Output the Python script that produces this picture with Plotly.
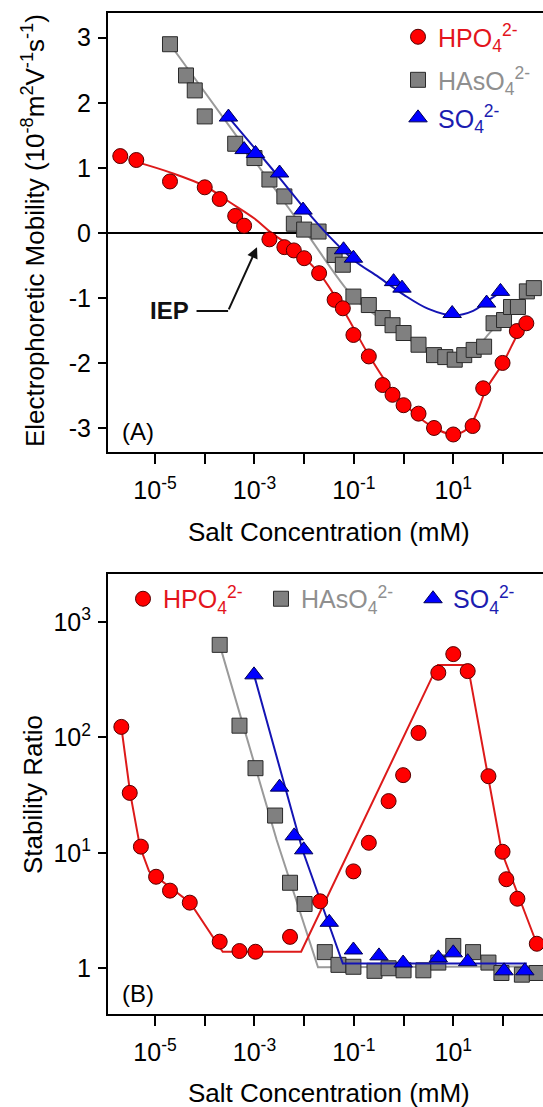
import plotly.graph_objects as go

# ---------------- Panel A: electrophoretic mobility ----------------
mob_conc_hpo4 = [2.0e-6, 4.2e-6, 2.0e-5, 1.0e-4, 2.0e-4, 4.1e-4, 6.2e-4, 2.0e-3, 4.0e-3, 6.2e-3,
                 1.0e-2, 2.0e-2, 4.1e-2, 6.0e-2, 9.8e-2, 0.20, 0.38, 0.60, 1.0, 2.0,
                 4.1, 10, 24.5, 40, 98, 190, 295]
mob_hpo4 = [1.18, 1.12, 0.79, 0.70, 0.52, 0.26, 0.11, -0.10, -0.22, -0.27,
            -0.39, -0.62, -1.03, -1.16, -1.57, -1.90, -2.34, -2.49, -2.65, -2.78,
            -3.00, -3.10, -2.97, -2.39, -2.00, -1.51, -1.39]

mob_conc_haso4 = [2.0e-5, 4.2e-5, 6.3e-5, 1.0e-4, 4.1e-4, 1.0e-3, 2.0e-3, 4.0e-3, 6.2e-3, 1.0e-2,
                  1.95e-2, 4.1e-2, 6.0e-2, 9.8e-2, 0.20, 0.38, 0.60, 1.0, 2.0, 4.1,
                  6.9, 10.7, 16.6, 25.7, 41.7, 64.6, 105, 145, 200, 302, 417]
mob_haso4 = [2.90, 2.42, 2.19, 1.79, 1.37, 1.15, 0.82, 0.56, 0.14, 0.05,
             0.02, -0.34, -0.49, -0.98, -1.11, -1.31, -1.42, -1.54, -1.72, -1.88,
             -1.91, -1.95, -1.88, -1.80, -1.75, -1.39, -1.34, -1.14, -1.14, -0.90, -0.85]

mob_conc_so4 = [3.0e-4, 6.2e-4, 1.05e-3, 3.2e-3, 9.5e-3, 6.2e-2, 9.8e-2, 0.63, 0.93, 9.5, 46.8, 89]
mob_so4 = [1.78, 1.28, 1.22, 0.92, 0.35, -0.26, -0.39, -0.75, -0.85, -1.24, -1.08, -0.90]

fit_mob_conc_hpo4 = [4.7e-6, 2.0e-5, 1.0e-4, 3.2e-4, 1.0e-3, 2.2e-3, 6.3e-3, 2.0e-2, 6.3e-2, 0.2,
                     0.63, 2.0, 5.0, 10, 20, 31.6, 44.7, 100, 200, 282]
fit_mob_hpo4 = [1.08, 0.93, 0.72, 0.47, 0.22, 0.0, -0.25, -0.62, -1.2, -1.88,
                -2.45, -2.83, -3.03, -3.1, -3.0, -2.72, -2.42, -2.0, -1.55, -1.38]

fit_mob_conc_haso4 = [2.0e-5, 1e-3, 1e-2, 0.1, 0.316, 1, 3.16, 10, 25.1, 55, 200, 398]
fit_mob_haso4 = [2.9, 1.11, 0.05, -1.0, -1.3, -1.58, -1.82, -1.93, -1.82, -1.53, -1.08, -0.85]

fit_mob_conc_so4 = [3.0e-4, 3.16e-3, 1e-2, 3.16e-2, 0.1, 0.316, 1, 3.16, 10, 25.1, 55, 95.5]
fit_mob_so4 = [1.78, 0.85, 0.38, -0.05, -0.42, -0.68, -0.95, -1.17, -1.27, -1.2, -1.02, -0.9]

# ---------------- Panel B: stability ratio ----------------
st_conc_hpo4 = [2.1e-6, 3.1e-6, 5.2e-6, 1.05e-5, 2.0e-5, 5.0e-5, 2.0e-4, 5.0e-4, 1.05e-3, 5.2e-3,
                2.1e-2, 9.8e-2, 0.2, 0.5, 0.98, 2.0, 5.0, 10, 19.5, 51,
                98, 117, 195, 479]
st_hpo4 = [123, 33, 11.3, 6.2, 4.7, 3.7, 1.7, 1.41, 1.39, 1.87,
           3.8, 6.9, 12.2, 28, 47, 109, 362, 525, 374, 46,
           10.2, 5.9, 4.0, 1.63]

st_conc_haso4 = [2.0e-4, 5.0e-4, 1.05e-3, 2.6e-3, 5.2e-3, 1.02e-2, 2.6e-2, 4.9e-2, 9.8e-2, 0.26,
                 0.5, 1.0, 2.5, 5.0, 10, 25, 51, 93, 240, 479]
st_haso4 = [631, 126, 54, 21, 5.5, 3.6, 1.38, 1.07, 1.03, 0.95,
            1.0, 0.96, 0.96, 1.12, 1.56, 1.38, 1.12, 0.91, 0.88, 0.91]

st_conc_so4 = [9.8e-4, 3.2e-3, 6.3e-3, 9.8e-3, 3.2e-2, 9.8e-2, 0.32, 0.98, 5.0, 10, 19.5, 105, 275]
st_so4 = [347, 37, 14, 10.6, 2.5, 1.44, 1.28, 1.11, 1.23, 1.36, 1.14, 0.95, 0.95]

fit_st_conc_hpo4 = [2.1e-6, 3.16e-6, 5.0e-6, 7.6e-6, 5.1e-5, 2.3e-4, 8.7e-3, 4.9, 19.5, 95.5, 479]
fit_st_hpo4 = [123, 33, 11.2, 6.9, 3.7, 1.39, 1.39, 423, 423, 10.0, 1.63]

fit_st_conc_haso4 = [2.0e-4, 2.8e-3, 1.9e-2, 479]
fit_st_haso4 = [631, 12.9, 1.02, 1.04]

fit_st_conc_so4 = [9.8e-4, 9.3e-3, 6.0e-2, 302]
fit_st_so4 = [347, 10.5, 1.1, 1.1]

x_tickvals = [1e-5, 1e-3, 1e-1, 10]
x_ticktext = ["10<sup>-5</sup>", "10<sup>-3</sup>", "10<sup>-1</sup>", "10<sup>1</sup>"]
x_minorvals = [1e-4, 1e-2, 1, 100]
yA_tickvals = [-3, -2, -1, 0, 1, 2, 3]
yA_ticktext = ["-3", "-2", "-1", "0", "1", "2", "3"]
yB_tickvals = [1, 10, 100, 1000]
yB_ticktext = ["1", "10<sup>1</sup>", "10<sup>2</sup>", "10<sup>3</sup>"]

RED_T, GRAY_T, BLUE_T = "#e3141c", "#8f8f8f", "#1c1cb0"
RED_L, GRAY_L, BLUE_L = "#dd1a1a", "#9a9a9a", "#1414b4"
FONT = "Liberation Sans, Arial, sans-serif"

names = {
    "hpo4": f'<span style="color:{RED_T}">HPO<sub>4</sub><sup>2-</sup></span>',
    "haso4": f'<span style="color:{GRAY_T}">HAsO<sub>4</sub><sup>2-</sup></span>',
    "so4": f'<span style="color:{BLUE_T}">SO<sub>4</sub><sup>2-</sup></span>',
}
mk = {
    "hpo4": dict(symbol="circle", size=15, color="#ff0000", line=dict(color="#550000", width=1)),
    "haso4": dict(symbol="square", size=15, color="#808080", line=dict(color="#2a2a2a", width=1)),
    "so4": dict(symbol="triangle-up", size=16, color="#0000ff", line=dict(color="#000055", width=1)),
}
# one legend box per entry (panel A stacked, panel B in a row)
legend_of = {("A", "hpo4"): "legend", ("A", "haso4"): "legend2", ("A", "so4"): "legend3",
             ("B", "hpo4"): "legend4", ("B", "haso4"): "legend5", ("B", "so4"): "legend6"}

fig = go.Figure()

def add_series(xs, ys, fx, fy, key, lc, xa, ya, panel, shape):
    fig.add_trace(go.Scatter(x=fx, y=fy, mode="lines", line=dict(color=lc, width=2, shape=shape),
                             xaxis=xa, yaxis=ya, showlegend=False, hoverinfo="skip"))
    fig.add_trace(go.Scatter(x=xs, y=ys, mode="markers", marker=mk[key], name=names[key],
                             xaxis=xa, yaxis=ya, legend=legend_of[(panel, key)]))

# panel A
add_series(mob_conc_haso4, mob_haso4, fit_mob_conc_haso4, fit_mob_haso4, "haso4", GRAY_L, "x", "y", "A", "spline")
add_series(mob_conc_so4, mob_so4, fit_mob_conc_so4, fit_mob_so4, "so4", BLUE_L, "x", "y", "A", "spline")
add_series(mob_conc_hpo4, mob_hpo4, fit_mob_conc_hpo4, fit_mob_hpo4, "hpo4", RED_L, "x", "y", "A", "spline")
# panel B
add_series(st_conc_haso4, st_haso4, fit_st_conc_haso4, fit_st_haso4, "haso4", GRAY_L, "x2", "y2", "B", "linear")
add_series(st_conc_so4, st_so4, fit_st_conc_so4, fit_st_so4, "so4", BLUE_L, "x2", "y2", "B", "linear")
add_series(st_conc_hpo4, st_hpo4, fit_st_conc_hpo4, fit_st_hpo4, "hpo4", RED_L, "x2", "y2", "B", "linear")

axis_common = dict(showline=True, linecolor="black", linewidth=2, ticks="outside", tickcolor="black",
                   tickwidth=2, showgrid=False, tickfont=dict(size=25, color="black", family=FONT))

xcommon = dict(axis_common, type="log", range=[-5.946, 2.805], tickmode="array", tickvals=x_tickvals,
               ticktext=x_ticktext, ticklen=10, mirror=True, zeroline=False, ticklabelstandoff=5,
               minor=dict(tickmode="array", tickvals=x_minorvals, ticks="outside", ticklen=10,
                          tickwidth=2, tickcolor="black", showgrid=False))

def leg(x, y):
    return dict(x=x, y=y, xanchor="left", yanchor="middle", font=dict(size=25, family=FONT),
                bgcolor="rgba(0,0,0,0)", borderwidth=0)

fig.update_layout(
    width=543, height=1107,
    margin=dict(l=108, r=0, t=13, b=93),
    paper_bgcolor="white", plot_bgcolor="white",
    font=dict(family=FONT, color="black"),
    xaxis=dict(xcommon, anchor="y", domain=[0, 1]),
    yaxis=dict(axis_common, domain=[0.5614, 1], range=[-3.37, 3.38], tickmode="array",
               tickvals=yA_tickvals, ticktext=yA_ticktext, ticklen=8, zeroline=True,
               zerolinecolor="black", zerolinewidth=2, anchor="x", ticklabelstandoff=2),
    xaxis2=dict(xcommon, anchor="y2", domain=[0, 1]),
    yaxis2=dict(axis_common, type="log", domain=[0, 0.4396], range=[-0.396, 3.414], tickmode="array",
                tickvals=yB_tickvals, ticktext=yB_ticktext, ticklen=8, zeroline=False, anchor="x2",
                ticklabelstandoff=2),
    legend=leg(0.6667, 0.976),
    legend2=leg(0.6667, 0.933),
    legend3=leg(0.6667, 0.895),
    legend4=leg(0.0345, 0.4146),
    legend5=leg(0.3517, 0.4146),
    legend6=leg(0.7012, 0.4146),
)

ann = []
# axis titles
ann.append(dict(text="Electrophoretic Mobility (10<sup>-8</sup>m<sup>2</sup>V<sup>-1</sup>s<sup>-1</sup>)",
                xref="paper", yref="paper", x=-0.1724, y=0.7822, xanchor="center", yanchor="middle",
                textangle=-90, showarrow=False, font=dict(size=26, family=FONT)))
ann.append(dict(text="Stability Ratio", xref="paper", yref="paper", x=-0.1724, y=0.2188,
                xanchor="center", yanchor="middle", textangle=-90, showarrow=False,
                font=dict(size=26, family=FONT)))
ann.append(dict(text="Salt Concentration (mM)", xref="paper", yref="paper", x=0.508, y=0.4818,
                xanchor="center", yanchor="middle", showarrow=False, font=dict(size=26, family=FONT)))
ann.append(dict(text="Salt Concentration (mM)", xref="paper", yref="paper", x=0.508, y=-0.0785,
                xanchor="center", yanchor="middle", showarrow=False, font=dict(size=26, family=FONT)))
# panel labels
ann.append(dict(text="(A)", xref="paper", yref="paper", x=0.027, y=0.5817, xanchor="left",
                yanchor="middle", showarrow=False, font=dict(size=24, family=FONT)))
ann.append(dict(text="(B)", xref="paper", yref="paper", x=0.027, y=0.020, xanchor="left",
                yanchor="middle", showarrow=False, font=dict(size=24, family=FONT)))
# IEP annotation (log-x coordinates)
ann.append(dict(text="", xref="x", yref="y", x=-2.948, y=-0.22, axref="x", ayref="y", ax=-3.53, ay=-1.20,
                showarrow=True, arrowhead=2, arrowsize=1.1, arrowwidth=2, arrowcolor="#111111", standoff=0))
ann.append(dict(text="", xref="x", yref="y", x=-3.53, y=-1.20, axref="x", ayref="y", ax=-4.195, ay=-1.20,
                showarrow=True, arrowhead=0, arrowwidth=2, arrowcolor="#111111", standoff=0))
ann.append(dict(text="<b>IEP</b>", xref="x", yref="y", x=-4.276, y=-1.20, xanchor="right", yanchor="middle",
                showarrow=False, font=dict(size=24, family=FONT, color="#111111")))
fig.update_layout(annotations=ann)

fig.write_html("out.html")
